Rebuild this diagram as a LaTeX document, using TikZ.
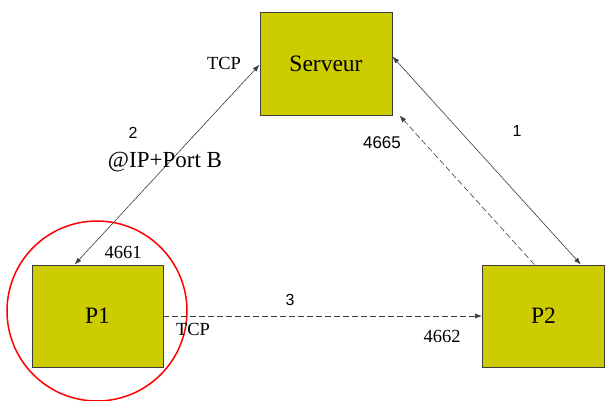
\documentclass[tikz,border=0pt]{standalone}
\usepackage{fontspec}
\setmainfont{Liberation Serif}
\newfontfamily\arialfont{Liberation Sans}
\usetikzlibrary{arrows.meta}
\definecolor{boxolive}{RGB}{204,204,0}
\definecolor{linegray}{RGB}{60,60,60}

\begin{document}
\begin{tikzpicture}[x=1pt,y=-1pt]
        \tikzset{host/.style={draw=linegray, fill=boxolive, line width=0.9pt, inner sep=0pt, font=\fontsize{23.5}{25}\selectfont},
                 link/.style={{Latex[length=7pt,width=5pt]}-{Latex[length=7pt,width=5pt]}, linegray, line width=0.6pt},
                 dlink/.style={-{Latex[length=7pt,width=5pt]}, linegray, line width=0.6pt, dash pattern=on 6pt off 3pt},
                 num/.style={font=\arialfont\fontsize{16}{18}\selectfont},
                 port/.style={font=\fontsize{18.5}{20}\selectfont}}
        \useasboundingbox (0,0) rectangle (605,401);
        \node[host, minimum width=132pt, minimum height=103pt] (serveur) at (326,63.5) {Serveur};
        \node[host, minimum width=131pt, minimum height=102pt] (p1) at (97.5,316) {P1};
        \node[host, minimum width=122pt, minimum height=102pt] (p2) at (543.5,316) {P2};
        \draw[red, line width=1.5pt] (97,311) circle (90);
        \coordinate (corner) at ([xshift=7pt]serveur.south east);
        \draw[link] (p1.114) -- (serveur.181);
        \draw[link] (serveur.6) -- (p2.54);
        \draw[dlink] (p2.100) -- (corner);
        \draw[dlink] (p1.east) -- (p2.west);
        \node[port] (tcpa) at (224,63) {TCP};
        \node[num] (lbla) at (133,133) {2};
        \node[font=\fontsize{23}{25}\selectfont] (addr) at (165,162) {@IP+Port B};
        \node[num, font=\arialfont\fontsize{17}{19}\selectfont] (pserv) at (382,143) {4665};
        \node[num] (lblb) at (517,131) {1};
        \node[port] (pa) at (123,252) {4661};
        \node[num] (lblc) at (290,300) {3};
        \node[port] (tcpb) at (193,329) {TCP};
        \node[port] (pb) at (442,336) {4662};
    \end{tikzpicture}
\end{document}
